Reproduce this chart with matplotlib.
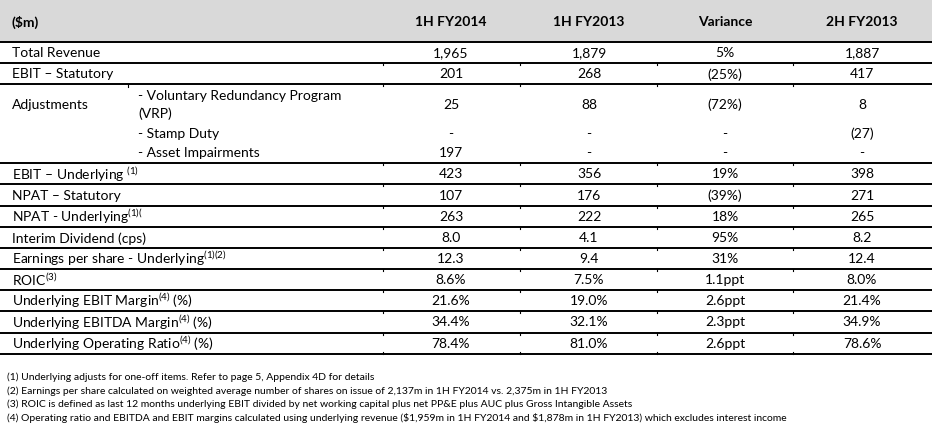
import matplotlib
matplotlib.use("Agg")
import matplotlib.pyplot as plt

# ── Table content ────────────────────────────────────────────────────────────
header = ["(\\$m)", "1H FY2014", "1H FY2013", "Variance", "2H FY2013"]

row_labels = [
    "Total Revenue",
    "EBIT – Statutory",
    "Adjustments",
    "EBIT – Underlying $^{(1)}$",
    "NPAT – Statutory",
    "NPAT - Underlying$^{(1)(}$",
    "Interim Dividend (cps)",
    "Earnings per share - Underlying$^{(1)(2)}$",
    "ROIC$^{(3)}$",
    "Underlying EBIT Margin$^{(4)}$ (%)",
    "Underlying EBITDA Margin$^{(4)}$ (%)",
    "Underlying Operating Ratio$^{(4)}$ (%)",
]
fy14 = ["1,965", "201", None, "423", "107", "263", "8.0", "12.3", "8.6%", "21.6%", "34.4%", "78.4%"]
fy13 = ["1,879", "268", None, "356", "176", "222", "4.1", "9.4", "7.5%", "19.0%", "32.1%", "81.0%"]
variance = ["5%", "(25%)", None, "19%", "(39%)", "18%", "95%", "31%", "1.1ppt", "2.6ppt", "2.3ppt", "2.6ppt"]
h2fy13 = ["1,887", "417", None, "398", "271", "265", "8.2", "12.4", "8.0%", "21.4%", "34.9%", "78.6%"]

adj_labels = ["- Voluntary Redundancy Program\n(VRP)", "- Stamp Duty", "- Asset Impairments"]
adj_fy14 = ["25", "-", "197"]
adj_fy13 = ["88", "-", "-"]
adj_var = ["(72%)", "-", "-"]
adj_h2 = ["8", "(27)", "-"]

footnotes = [
    "(1) Underlying adjusts for one-off items. Refer to page 5, Appendix 4D for details",
    "(2) Earnings per share calculated on weighted average number of shares on issue of 2,137m in 1H FY2014 vs. 2,375m in 1H FY2013",
    "(3) ROIC is defined as last 12 months underlying EBIT divided by net working capital plus net PP&E plus AUC plus Gross Intangible Assets",
    "(4) Operating ratio and EBITDA and EBIT margins calculated using underlying revenue (\\$1,959m in 1H FY2014 and \\$1,878m in 1H FY2013) which excludes interest income",
]

# ── Style ────────────────────────────────────────────────────────────────────
FONT = "Lato"
plt.rcParams.update({
    "font.family": FONT,
    "mathtext.fontset": "custom",
    "mathtext.rm": FONT,
    "mathtext.it": FONT + ":italic",
    "mathtext.bf": FONT + ":bold",
})
FS = 10.0
FS_HEAD = 10.0
FS_NOTE = 7.5
HEADER_BG = "#d9d9d9"
LW = 1.4

W, H = 932, 430
fig = plt.figure(figsize=(W / 100, H / 100), dpi=100)
ax = fig.add_axes([0, 0, 1, 1])
ax.set_xlim(0, W)
ax.set_ylim(H, 0)
ax.axis("off")

col_x = [12, 451, 589, 725, 862]
sub_x = 138
tick_x = [383, 520, 657, 793]

# header band
ax.add_patch(plt.Rectangle((0, 0), W, 42.3, color=HEADER_BG, lw=0))
ax.text(col_x[0], 22, header[0], fontsize=FS_HEAD, fontweight="bold", va="center", ha="left")
for x, h in zip(col_x[1:], header[1:]):
    ax.text(x, 22, h, fontsize=FS_HEAD, fontweight="bold", va="center", ha="center")

# row boundaries
lines_y = [42.3, 63.3, 84.3, 163.3, 184.3, 206, 227.3, 248.3, 269, 290, 311, 332.7, 354]
for y in lines_y:
    ax.plot([0, W], [y, y], color="black", lw=LW, solid_capstyle="butt")
for y in lines_y[1:-1]:
    for tx in tick_x:
        ax.plot([tx, tx], [y, y + 2], color="black", lw=0.8)
for tx in tick_x:
    ax.plot([tx, tx], [354, 352], color="black", lw=0.8)
ax.plot([128, 128], [84.3, 86.5], color="black", lw=0.8)

# body rows
for i, lab in enumerate(row_labels):
    top, bot = lines_y[i], lines_y[i + 1]
    if lab == "Adjustments":
        ax.text(col_x[0], 105, lab, fontsize=FS, va="center", ha="left")
        sub_y = [105, 134, 153]
        for j, sl in enumerate(adj_labels):
            if "\n" in sl:
                first, second = sl.split("\n")
                ax.text(sub_x, 96, first, fontsize=FS, va="center", ha="left")
                ax.text(sub_x, 114, second, fontsize=FS, va="center", ha="left")
            else:
                ax.text(sub_x, sub_y[j], sl, fontsize=FS, va="center", ha="left")
            for x, col in zip(col_x[1:], [adj_fy14, adj_fy13, adj_var, adj_h2]):
                ax.text(x, sub_y[j], col[j], fontsize=FS, va="center", ha="center")
        continue
    yc = (top + bot) / 2 + 0.5
    ax.text(col_x[0], yc, lab, fontsize=FS, va="center", ha="left")
    for x, col in zip(col_x[1:], [fy14, fy13, variance, h2fy13]):
        ax.text(x, yc, col[i], fontsize=FS, va="center", ha="center")

# footnotes
for k, fn in enumerate(footnotes):
    ax.text(7, 377 + k * 13.8, fn, fontsize=FS_NOTE, va="center", ha="left")

fig.savefig("out.png", dpi=100)
